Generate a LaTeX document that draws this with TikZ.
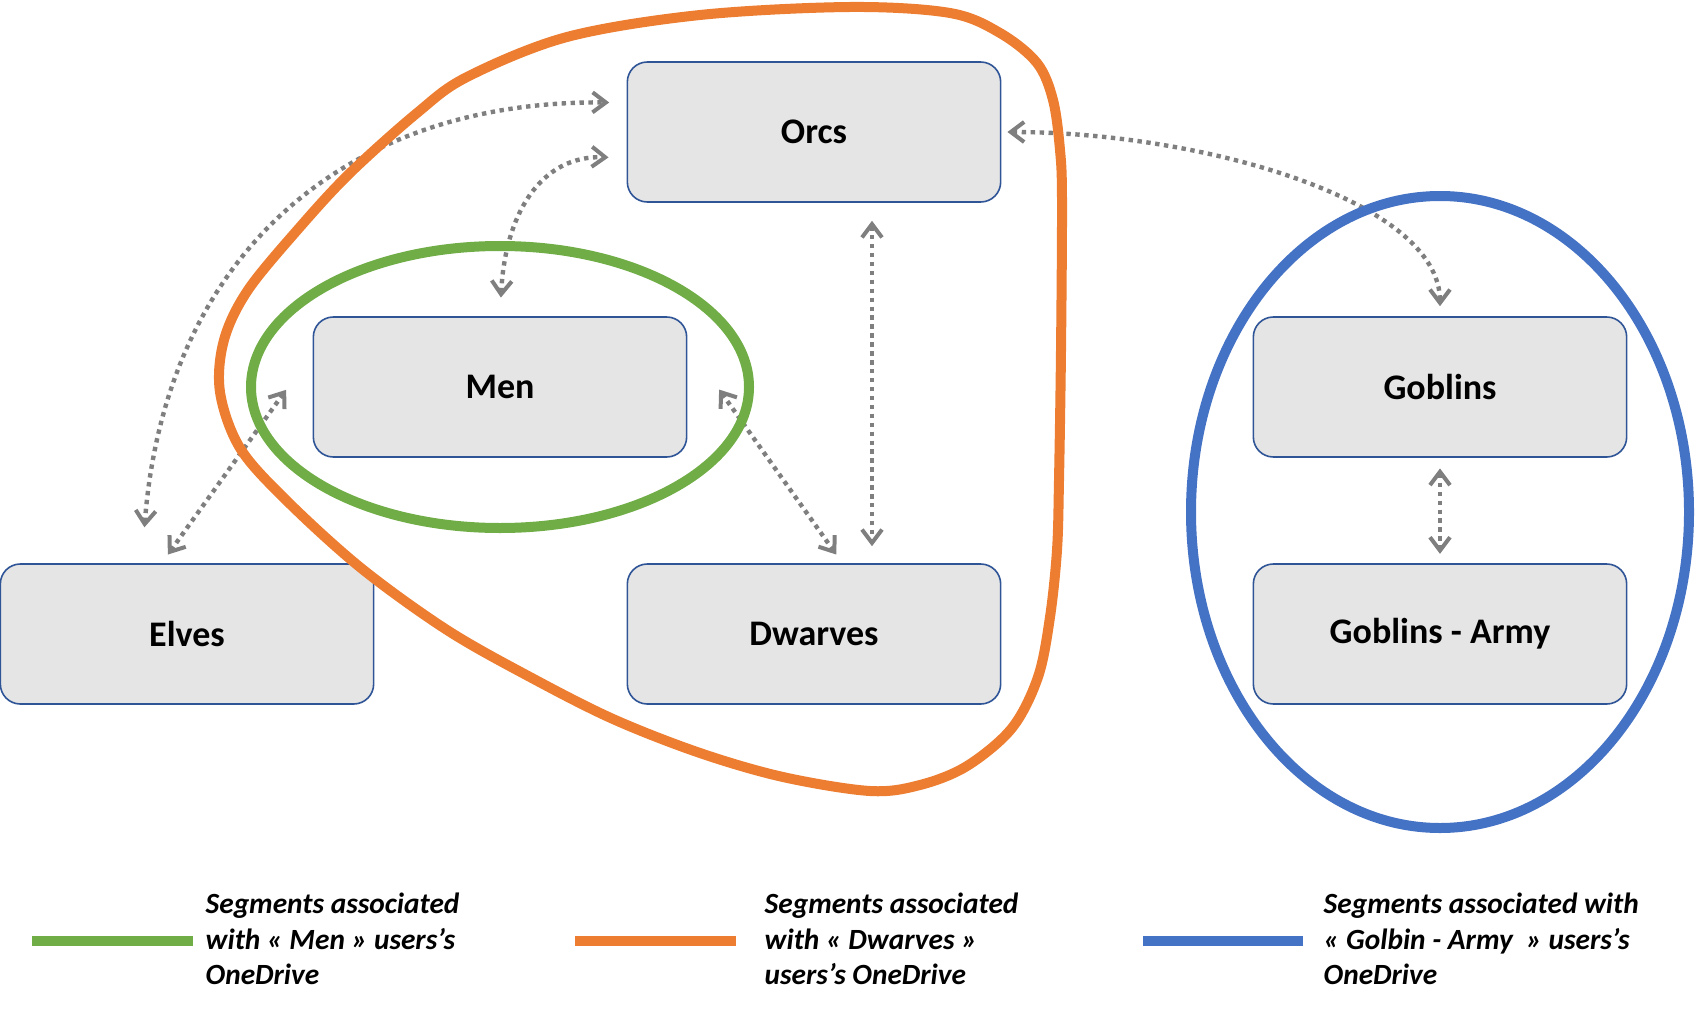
\documentclass[tikz,border=0pt]{standalone}
\usepackage{fontspec}
\setmainfont{Carlito}
\usetikzlibrary{arrows.meta}

\definecolor{boxfill}{HTML}{E5E5E5}
\definecolor{boxline}{HTML}{2F5597}
\definecolor{menGreen}{HTML}{70AD47}
\definecolor{dwarfOrange}{HTML}{ED7D31}
\definecolor{armyBlue}{HTML}{4472C4}
\definecolor{linkGray}{HTML}{7F7F7F}

\begin{document}
\begin{tikzpicture}[x=0.75pt, y=-0.75pt,
		race/.style={draw=boxline, line width=1.2pt, fill=boxfill, rounded corners=15pt,
			minimum width=280pt, minimum height=105pt, font=\fontsize{27}{32}\selectfont\bfseries},
		link/.style={linkGray, line width=3.3pt, dash pattern=on 3.3pt off 3.4pt,
			{Straight Barb[length=10pt,width=15pt,line width=3pt]}-{Straight Barb[length=10pt,width=15pt,line width=3pt]}},
		segment/.style={line width=7.5pt},
		legend/.style={anchor=west, align=left, font=\fontsize{22}{26.5}\selectfont\bfseries\itshape}]
		\useasboundingbox (0, 0) rectangle (1698, 1009);
		
		\node[race] (orcs) at (814, 132) {Orcs};
		\node[race] (men) at (500, 387) {Men};
		\node[race] (elves) at (187, 634) {Elves};
		\node[race] (dwarves) at (814, 634) {Dwarves};
		\node[race] (goblins) at (1440, 387) {Goblins};
		\node[race] (army) at (1440, 634) {Goblins - Army};
		
		% Links between the races
		\draw[link, shorten <=27pt, shorten >=13pt] ([xshift=-34pt]elves.north)
			.. controls (165, 260) and (340, 100) .. ([yshift=22pt]orcs.west);
		\draw[link, shorten <=14pt, shorten >=13.5pt] (men.north)
			.. controls (505, 215) and (540, 155) .. ([yshift=-19.5pt]orcs.west);
		\draw[link, shorten <=8pt, shorten >=34pt] ([xshift=-19pt]elves.north) -- ([yshift=25.5pt]men.west);
		\draw[link, shorten <=41pt, shorten >=8pt] ([yshift=31.5pt]men.east) -- ([xshift=21.3pt]dwarves.north);
		\draw[link, shorten <=13.5pt, shorten >=12.75pt] ([xshift=43.5pt]orcs.south) -- ([xshift=43.5pt]dwarves.north);
		\draw[link, shorten <=4.5pt, shorten >=7.5pt] (orcs.east)
			.. controls (1200, 132) and (1440, 200) .. (goblins.north);
		\draw[link, shorten <=8pt, shorten >=7pt] (goblins.south) -- (army.north);
		
		% Segments
		\draw[segment, menGreen] (men.center) ellipse [x radius=249, y radius=141];
		\draw[segment, armyBlue] (1440, 512) ellipse [x radius=249, y radius=316];
		\draw[segment, dwarfOrange] plot[smooth cycle, tension=0.55] coordinates {
			(850, 7) (950, 13) (1000, 33) (1037, 63) (1053, 100) (1060, 150) (1062, 200)
			(1061, 350) (1059, 480) (1057, 550) (1050, 617) (1038, 677) (1012, 728) (967, 766)
			(920, 785) (870, 791) (783, 777) (700, 753) (613, 719) (530, 677) (447, 630)
			(361, 568) (286, 500) (240, 448) (220, 392) (224, 340) (248, 290) (300, 227)
			(350, 173) (417, 113) (467, 77) (567, 37) (700, 15)};
		
		% Legend
		\draw[segment, menGreen, line width=8pt] (32, 941) -- (193, 941);
		\node[legend] (menKey) at (201, 939) {Segments associated\\with « Men » users’s\\OneDrive};
		\draw[segment, dwarfOrange, line width=8pt] (575, 941) -- (736, 941);
		\node[legend] (dwarfKey) at (760, 939) {Segments associated\\with « Dwarves »\\users’s OneDrive};
		\draw[segment, armyBlue, line width=8pt] (1143, 941) -- (1303, 941);
		\node[legend] (armyKey) at (1319, 939) {Segments associated with\\« Golbin - Army~ » users’s\\OneDrive};
	\end{tikzpicture}
\end{document}
